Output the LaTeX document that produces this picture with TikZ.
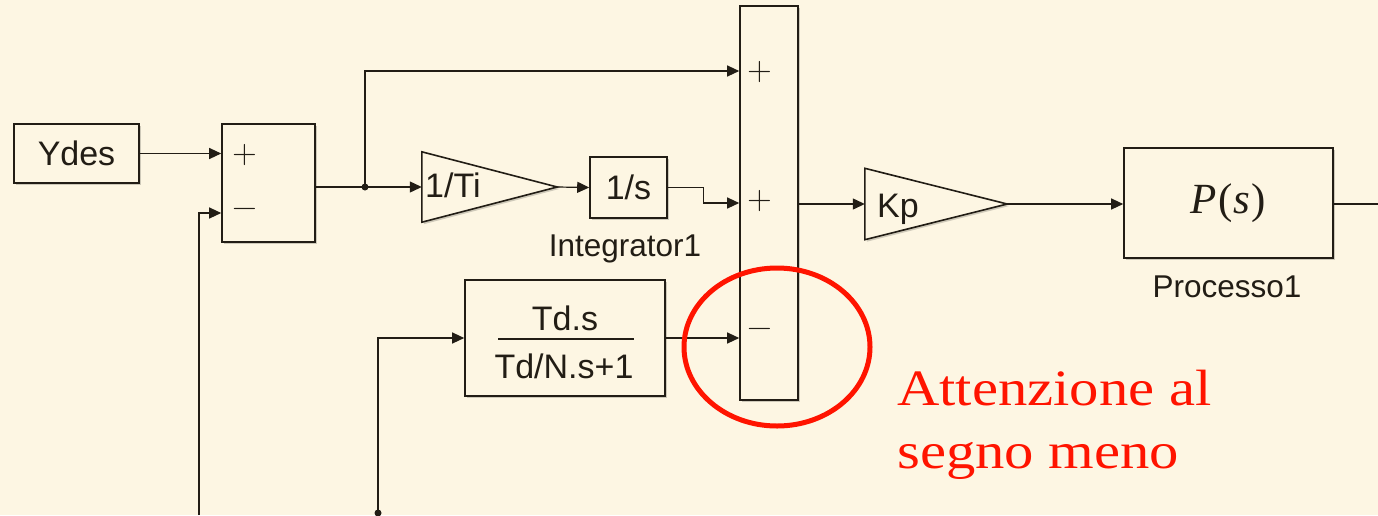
\documentclass[tikz,border=0pt]{standalone}
\usepackage{fontspec}
\setmainfont{Liberation Sans}
\newfontfamily\notefont[FakeStretch=1.15]{Liberation Serif}
\newfontfamily\plantfont{Liberation Serif}
\usepackage{xcolor}
\usepackage{tikz}
\usetikzlibrary{positioning, arrows.meta, calc, shadows}
\definecolor{paper}{HTML}{FDF6E3}
\definecolor{ink}{HTML}{221D15}
\definecolor{alertred}{HTML}{FF1400}

\tikzset{
    block/.style={draw=ink, line width=1.6pt, fill=paper, inner sep=0pt,
                  drop shadow={shadow xshift=2pt, shadow yshift=-2pt, opacity=0.3, fill=ink!70}},
    sig/.style={draw=ink, line width=1.2pt, -{Triangle[length=12pt, width=11pt]}},
    wire/.style={draw=ink, line width=1.2pt},
    lbl/.style={text=ink, font=\fontsize{34}{40}\selectfont, inner sep=0pt},
    small/.style={text=ink, font=\fontsize{31.5}{36}\selectfont, inner sep=0pt},
    sign/.style={text=ink, font=\sffamily\fontsize{34}{34}\selectfont, inner sep=0pt},
    tap/.style={circle, fill=ink, inner sep=0pt, minimum size=7pt},
    note/.style={text=alertred, font=\notefont\fontsize{51}{63}\selectfont, inner sep=0pt}
}

\begin{document}
\begin{tikzpicture}[x=1pt, y=-1pt]
    \fill[paper] (0,0) rectangle (1378,515);
    \useasboundingbox (0,0) rectangle (1378,515);

    % blocks
    \node[block, lbl, minimum width=125pt, minimum height=59pt] (ydes) at (76.5,153.5) {Ydes};
    \node[block, minimum width=93pt, minimum height=118pt] (sum1) at (268.5,183) {};
    \node[inner sep=0pt, minimum width=135pt, minimum height=70pt] (ti) at (489.5,187) {};
    \draw[block] (ti.north west) -- (ti.east) -- (ti.south west) -- cycle;
    \node[lbl, anchor=base west] (tilbl) at (425,197) {1/Ti};
    \node[block, lbl, minimum width=77pt, minimum height=61pt] (ints) at (628.5,187.5) {1/s};
    \node[small, anchor=base] (intlbl) at (625,256) {Integrator1};
    \node[block, minimum width=200pt, minimum height=116pt] (deriv) at (565,338) {};
    \node[lbl, anchor=base] (tdnum) at (565,330) {Td.s};
    \node[lbl, anchor=base] (tdden) at (564,378) {Td/N.s+1};
    \draw[ink, line width=1.5pt] (498,339) -- (634,339);
    \node[block, minimum width=58pt, minimum height=394pt] (bigsum) at (769,203) {};
    \node[inner sep=0pt, minimum width=142pt, minimum height=71pt] (kp) at (936,204) {};
    \draw[block] (kp.north west) -- (kp.east) -- (kp.south west) -- cycle;
    \node[lbl, anchor=base west] (kplbl) at (877,217) {Kp};
    \node[block, minimum width=209pt, minimum height=110pt] (plant) at (1228.5,203) {};
    \node[text=ink, font=\plantfont\fontsize{43}{46}\selectfont, inner sep=0pt, anchor=base]
        (plantlbl) at (1228,213) {\textit{P}\kern2pt(\textit{s}\kern1pt)};
    \node[small, anchor=base] (proclbl) at (1227,297) {Processo1};

    % signs
    \node[sign] (s1p) at (245,155) {+};
    \node[sign] (s1m) at (245,213) {−};
    \node[sign] (s2p) at (760,72) {+};
    \node[sign] (s2i) at (760,201) {+};
    \node[sign] (s2d) at (760,333) {−};

    % signals
    \coordinate (fbA) at (199,515);
    \coordinate (fbB) at (378,513);
    \coordinate (br) at (365,187);
    \coordinate (yout) at (1378,204);
    \draw[sig] (ydes.east) -- (ydes.east -| sum1.west);
    \draw[sig] (fbA) |- ([yshift=-30pt]sum1.west);
    \draw[sig] (sum1.east |- ti.west) -- (ti.west);
    \draw[sig] (br) |- ([yshift=132pt]bigsum.west);
    \node[tap] (brdot) at (br) {};
    \draw[sig] (ti.east) -- (ints.west);
    \draw[sig] (ints.east) -- ++(36,0) |- (bigsum.west);
    \draw[sig] (fbB) |- (deriv.west);
    \node[tap] (fbdot) at (fbB) {};
    \draw[sig] (deriv.east) -- (deriv.east -| bigsum.west);
    \draw[sig] (bigsum.east |- kp.west) -- (kp.west);
    \draw[sig] (kp.east) -- (kp.east -| plant.west);
    \draw[wire] (plant.east |- yout) -- (yout);

    % annotation
    \draw[alertred, line width=5pt] (777,347) ellipse [x radius=93pt, y radius=79pt];
    \node[note, anchor=base west] (note1) at (897,405) {Attenzione al};
    \node[note, anchor=base west] (note2) at (897,468) {segno meno};
\end{tikzpicture}
\end{document}
